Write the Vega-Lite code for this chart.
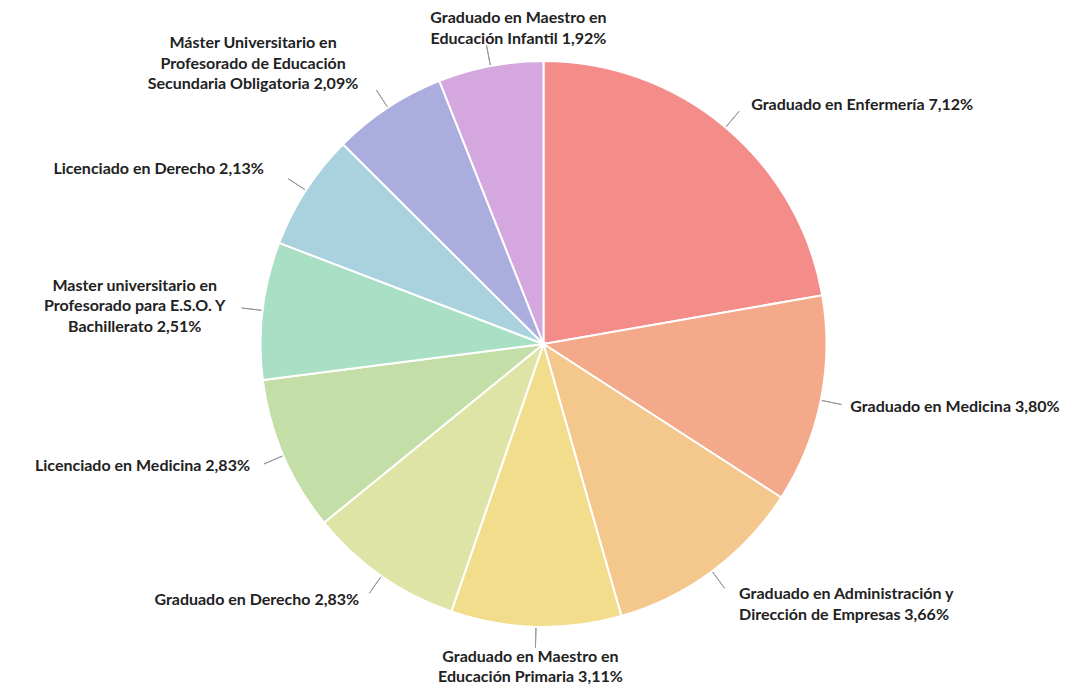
{
  "$schema": "https://vega.github.io/schema/vega-lite/v6.json",
  "width": 1087,
  "height": 688,
  "autosize": {"type": "none"},
  "padding": 0,
  "background": "white",
  "config": {"view": {"stroke": null}, "text": {"font": "Lato", "fontWeight": "bold", "fontSize": 16, "fill": "#222222", "lineBreak": "\n", "lineHeight": 20.5}},
  "data": {"values": [
    {"rank": 1, "label": "Graduado en Enfermería", "value": 7.12, "text": "Graduado en Enfermería 7,12%"},
    {"rank": 2, "label": "Graduado en Medicina", "value": 3.80, "text": "Graduado en Medicina 3,80%"},
    {"rank": 3, "label": "Graduado en Administración y Dirección de Empresas", "value": 3.66, "text": "Graduado en Administración y\nDirección de Empresas 3,66%"},
    {"rank": 4, "label": "Graduado en Maestro en Educación Primaria", "value": 3.11, "text": "Graduado en Maestro en\nEducación Primaria 3,11%"},
    {"rank": 5, "label": "Graduado en Derecho", "value": 2.83, "text": "Graduado en Derecho  2,83%"},
    {"rank": 6, "label": "Licenciado en Medicina", "value": 2.83, "text": "Licenciado en Medicina 2,83%"},
    {"rank": 7, "label": "Master universitario en Profesorado para E.S.O. Y Bachillerato", "value": 2.51, "text": "Master universitario en\nProfesorado para E.S.O. Y\nBachillerato  2,51%"},
    {"rank": 8, "label": "Licenciado en Derecho", "value": 2.13, "text": "Licenciado en Derecho 2,13%"},
    {"rank": 9, "label": "Máster Universitario en Profesorado de Educación Secundaria Obligatoria", "value": 2.09, "text": "Máster Universitario en\nProfesorado de Educación\nSecundaria Obligatoria 2,09%"},
    {"rank": 10, "label": "Graduado en Maestro en Educación Infantil", "value": 1.92, "text": "Graduado en Maestro en\nEducación Infantil 1,92%"}
  ]},
  "encoding": {
    "theta": {"field": "value", "type": "quantitative", "stack": true},
    "order": {"field": "rank", "type": "quantitative"}
  },
  "layer": [
    {
      "mark": {"type": "arc", "outerRadius": 283, "stroke": "white", "strokeWidth": 2},
      "encoding": {
        "color": {"field": "label", "type": "nominal", "legend": null,
          "scale": {
            "domain": ["Graduado en Enfermería", "Graduado en Medicina", "Graduado en Administración y Dirección de Empresas", "Graduado en Maestro en Educación Primaria", "Graduado en Derecho", "Licenciado en Medicina", "Master universitario en Profesorado para E.S.O. Y Bachillerato", "Licenciado en Derecho", "Máster Universitario en Profesorado de Educación Secundaria Obligatoria", "Graduado en Maestro en Educación Infantil"],
            "range": ["#F48C89", "#F4A98B", "#F4C78C", "#F2DD8C", "#DEE4A6", "#C3DEA7", "#A8DFC5", "#A9D1DE", "#AAADDD", "#D5A7DF"]
          }}
      }
    },
    {
      "mark": {"type": "arc", "innerRadius": 284, "outerRadius": 304, "padAngle": 1.2, "filled": false, "stroke": "#999999", "strokeWidth": 1}
    },
    {
      "mark": {"type": "text", "radius": 315, "align": "left", "baseline": "middle", "dx": 5, "dy": 2},
      "encoding": {"text": {"condition": {"test": "datum.label == 'Graduado en Enfermería'", "field": "text"}, "value": ""}}
    },
    {
      "mark": {"type": "text", "radius": 315, "align": "left", "baseline": "middle", "dx": -2},
      "encoding": {"text": {"condition": {"test": "datum.label == 'Graduado en Medicina'", "field": "text"}, "value": ""}}
    },
    {
      "mark": {"type": "text", "radius": 325, "align": "left", "baseline": "middle", "dx": 2, "dy": -11},
      "encoding": {"text": {"condition": {"test": "datum.label == 'Graduado en Administración y Dirección de Empresas'", "field": "text"}, "value": ""}}
    },
    {
      "mark": {"type": "text", "radius": 305, "align": "center", "baseline": "top", "dx": -5},
      "encoding": {"text": {"condition": {"test": "datum.label == 'Graduado en Maestro en Educación Primaria'", "field": "text"}, "value": ""}}
    },
    {
      "mark": {"type": "text", "radius": 299, "align": "center", "baseline": "bottom", "dx": 31, "dy": -24},
      "encoding": {"text": {"condition": {"test": "datum.label == 'Graduado en Maestro en Educación Infantil'", "field": "text"}, "value": ""}}
    },
    {
      "mark": {"type": "text", "radius": 315, "align": "right", "baseline": "middle", "dx": -4, "dy": -2},
      "encoding": {"text": {"condition": {"test": "indexof(['Graduado en Derecho','Licenciado en Medicina'], datum.label) >= 0", "field": "text"}, "value": ""}}
    },
    {
      "mark": {"type": "text", "radius": 326, "align": "right", "baseline": "middle", "dx": -6, "dy": 2},
      "encoding": {"text": {"condition": {"test": "datum.label == 'Licenciado en Derecho'", "field": "text"}, "value": ""}}
    },
    {
      "mark": {"type": "text", "radius": 315, "align": "center", "baseline": "middle", "dx": -96, "dy": -21},
      "encoding": {"text": {"condition": {"test": "datum.label == 'Master universitario en Profesorado para E.S.O. Y Bachillerato'", "field": "text"}, "value": ""}}
    },
    {
      "mark": {"type": "text", "radius": 330, "align": "center", "baseline": "middle", "dx": -109, "dy": -25},
      "encoding": {"text": {"condition": {"test": "datum.label == 'Máster Universitario en Profesorado de Educación Secundaria Obligatoria'", "field": "text"}, "value": ""}}
    }
  ]
}
